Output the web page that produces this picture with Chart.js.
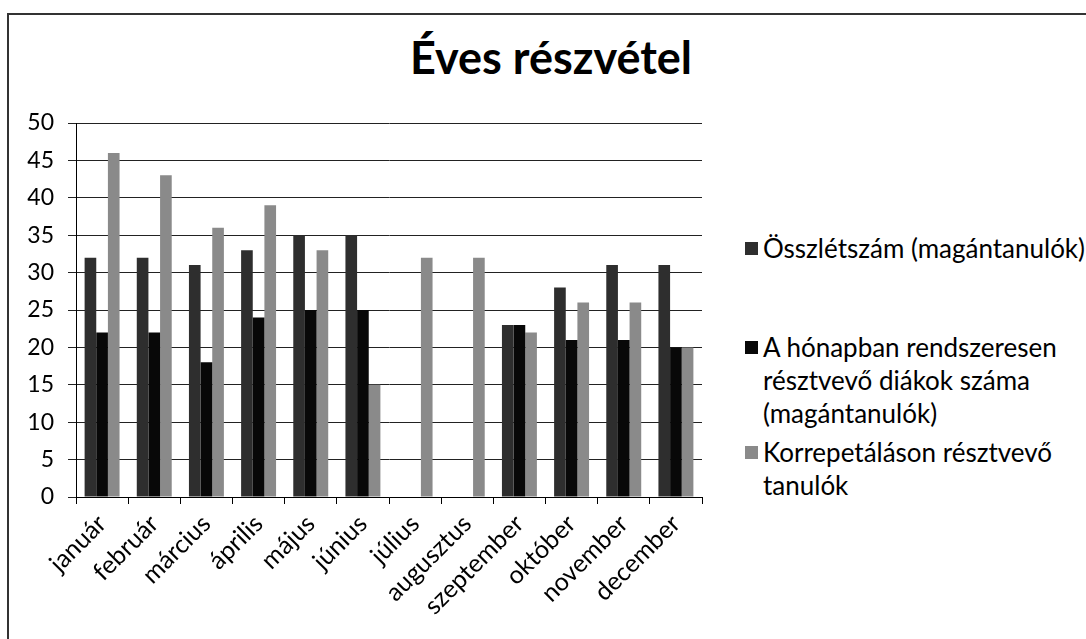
<!DOCTYPE html>
<html>
<head>
<meta charset="utf-8">
<script src="https://cdn.jsdelivr.net/npm/chart.js@4.4.0/dist/chart.umd.min.js"></script>
<style>
  body { margin: 0; background: #fff; width: 1086px; height: 639px; overflow: hidden; position: relative; font-family: Lato, "Noto Sans", sans-serif; }
  #frame { position: absolute; left: 7px; top: 13px; width: 1200px; height: 700px; border-left: 2px solid #333; border-top: 2px solid #333; }
  #title { position: absolute; left: 351px; width: 400px; top: 30px; text-align: center; font-weight: bold; font-size: 45px; color: #000; }
  #chartBox { position: absolute; left: 0; top: 0; width: 720px; height: 639px; }
  .leg { position: absolute; left: 745px; font-size: 26px; line-height: 33px; color: #000; }
  .leg .box { position: absolute; left: 0; top: 10px; width: 13px; height: 13px; }
  .leg .txt { margin-left: 18px; }
</style>
</head>
<body>
<div id="frame"></div>
<div id="title">Éves részvétel</div>
<div id="chartBox"><canvas id="chart"></canvas></div>
<div id="legend"></div>
<script>
// Data
const months = ['január', 'február', 'március', 'április', 'május', 'június',
  'július', 'augusztus', 'szeptember', 'október', 'november', 'december'];
const seriesNames = [
  'Összlétszám (magántanulók)',
  'A hónapban rendszeresen résztvevő diákok száma (magántanulók)',
  'Korrepetáláson résztvevő tanulók'
];
const osszletszam = [32, 32, 31, 33, 35, 35, 0, 0, 23, 28, 31, 31];
const rendszeresen = [22, 22, 18, 24, 25, 25, 0, 0, 23, 21, 21, 20];
const korrepetalas = [46, 43, 36, 39, 33, 15, 32, 32, 22, 26, 26, 20];
const yTicks = [0, 5, 10, 15, 20, 25, 30, 35, 40, 45, 50];

const colors = ['#2e2e2e', '#080808', '#8a8a8a'];
// legend lines as wrapped in the picture
const legendLines = [
  ['Összlétszám (magántanulók)'],
  ['A hónapban rendszeresen', 'résztvevő diákok száma', '(magántanulók)'],
  ['Korrepetáláson résztvevő', 'tanulók']
];
const legendTops = [232, 331, 436];

const legendEl = document.getElementById('legend');
legendLines.forEach((lines, i) => {
  const d = document.createElement('div');
  d.className = 'leg';
  d.style.top = legendTops[i] + 'px';
  d.innerHTML = '<span class="box" style="background:' + colors[i] + '"></span><div class="txt">' + lines.join('<br>') + '</div>';
  legendEl.appendChild(d);
});

const yFont = { family: 'Lato, "Noto Sans", sans-serif', size: 23 };
const xFont = { family: 'Lato, "Noto Sans", sans-serif', size: 25 };

new Chart(document.getElementById('chart'), {
  type: 'bar',
  data: {
    labels: months,
    datasets: [
      { label: seriesNames[0], data: osszletszam, backgroundColor: colors[0] },
      { label: seriesNames[1], data: rendszeresen, backgroundColor: colors[1] },
      { label: seriesNames[2], data: korrepetalas, backgroundColor: colors[2] }
    ]
  },
  options: {
    responsive: true,
    maintainAspectRatio: false,
    animation: false,
    layout: { padding: { top: 123, right: 18, left: 0, bottom: 0 } },
    datasets: { bar: { categoryPercentage: 0.67, barPercentage: 1.0 } },
    plugins: { legend: { display: false }, title: { display: false }, tooltip: { enabled: false } },
    scales: {
      x: {
        afterFit(scale) { scale.height = 142; },
        grid: { drawOnChartArea: false, drawTicks: true, tickLength: 7, color: '#000', offset: true },
        border: { color: '#000', width: 1 },
        ticks: { color: '#000', font: xFont, minRotation: 45, maxRotation: 45, autoSkip: false, padding: 5 }
      },
      y: {
        min: 0, max: 50,
        afterFit(scale) { scale.width = 76; },
        afterBuildTicks(scale) { scale.ticks = yTicks.map(v => ({ value: v })); },
        grid: { color: '#222', lineWidth: 1, drawTicks: true, tickLength: 8 },
        border: { color: '#000', width: 1 },
        ticks: { color: '#000', font: yFont, padding: 14 }
      }
    }
  }
});
</script>
</body>
</html>
